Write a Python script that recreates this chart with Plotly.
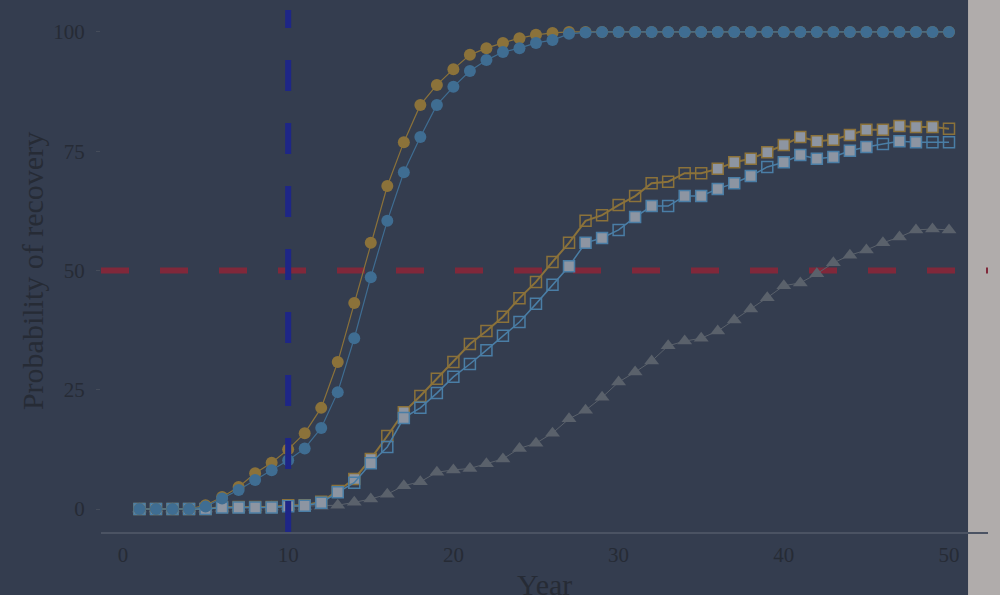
import plotly.graph_objects as go

years = list(range(1, 51))

gold_circle = [0, 0, 0, 0, 0.8, 2.5, 4.6, 7.5, 9.7, 12.5, 15.9, 21.2, 30.8, 43.2, 55.8,
               67.7, 76.9, 84.7, 88.9, 92.2, 95.2, 96.6, 97.7, 98.7, 99.4, 99.8, 100, 100, 100,
               100, 100, 100, 100, 100, 100, 100, 100, 100, 100, 100, 100, 100, 100, 100,
               100, 100, 100, 100, 100, 100]
blue_circle = [0, 0, 0, 0, 0.5, 2.2, 4.0, 6.1, 8.1, 10.2, 12.7, 17.0, 24.5, 35.8, 48.6,
               60.4, 70.6, 78.0, 84.7, 88.5, 91.8, 94.1, 95.8, 96.6, 97.7, 98.3, 99.6, 99.9, 100,
               100, 100, 100, 100, 100, 100, 100, 100, 100, 100, 100, 100, 100, 100, 100,
               100, 100, 100, 100, 100, 100]
gold_square = [0, 0, 0, 0, 0, 0.4, 0.4, 0.4, 0.4, 0.8, 0.8, 1.5, 3.8, 6.3, 10.5,
               15.3, 20.3, 23.7, 27.3, 30.8, 34.6, 37.3, 40.3, 44.2, 47.6, 51.8, 55.8, 60.4, 61.6,
               63.7, 65.6, 68.3, 68.6, 70.4, 70.4, 71.3, 72.7, 73.4, 74.8, 76.3, 78.0, 77.1, 77.4,
               78.4, 79.5, 79.5, 80.3, 80.1, 80.1, 79.7]
blue_square = [0, 0, 0, 0, 0, 0.3, 0.3, 0.3, 0.3, 0.6, 0.7, 1.3, 3.5, 5.5, 9.6,
               13.0, 19.1, 21.2, 24.3, 27.7, 30.4, 33.3, 36.3, 39.2, 43.0, 47.0, 50.9, 55.8, 56.8,
               58.5, 61.2, 63.5, 63.5, 65.6, 65.6, 67.1, 68.3, 69.8, 71.7, 72.7, 74.2, 73.4, 73.8,
               75.1, 75.9, 76.5, 77.1, 76.9, 76.9, 76.9]
grey_triangle = [0, 0, 0, 0, 0, 0.1, 0.2, 0.3, 0.4, 0.5, 0.5, 0.6, 0.8, 1.4, 2.1,
                 3.1, 4.9, 5.7, 7.7, 8.2, 8.5, 9.5, 10.5, 12.7, 13.8, 15.9, 18.9, 20.7, 23.4,
                 26.6, 28.7, 31.0, 34.2, 35.2, 35.8, 37.3, 39.6, 41.9, 44.3, 46.8, 47.4, 49.3, 51.6,
                 53.2, 54.3, 55.8, 57.0, 58.5, 58.7, 58.5]

# years whose square markers are drawn hollow
gold_open_years = [16] + list(range(18, 36)) + [50]
blue_open_years = [14, 16] + list(range(18, 27)) + [30, 33, 39, 46, 49, 50]

x_ticks = [0, 10, 20, 30, 40, 50]
y_ticks = [0, 25, 50, 75, 100]
x_title = "Year"
y_title = "Probability of recovery"
threshold_year = 10
threshold_prob = 50

BG = "#343d4f"
GOLD = "#8b723a"
BLUE = "#3f6d92"
BLUE_SQ = "#4a7ea6"
GREY_T = "#5a616b"
FILL = "#8d95a2"
TXT = "#262b35"
FONT = "Liberation Serif"


def square_style(open_years, color):
    symbols = ["square-open" if y in open_years else "square" for y in years]
    colors = [color if y in open_years else FILL for y in years]
    return symbols, colors


fig = go.Figure()

fig.add_trace(go.Scatter(x=years, y=grey_triangle, mode="lines+markers",
                         line=dict(color=GREY_T, width=1),
                         marker=dict(symbol="triangle-up", size=13, color=GREY_T)))

gs, gc = square_style(gold_open_years, GOLD)
fig.add_trace(go.Scatter(x=years, y=gold_square, mode="lines+markers",
                         line=dict(color=GOLD, width=2),
                         marker=dict(symbol=gs, size=11, color=gc,
                                     line=dict(color=GOLD, width=1.5))))
bs, bc = square_style(blue_open_years, BLUE_SQ)
fig.add_trace(go.Scatter(x=years, y=blue_square, mode="lines+markers",
                         line=dict(color=BLUE_SQ, width=1.5),
                         marker=dict(symbol=bs, size=11, color=bc,
                                     line=dict(color=BLUE_SQ, width=1.5))))

fig.add_trace(go.Scatter(x=years, y=gold_circle, mode="lines+markers",
                         line=dict(color=GOLD, width=1.2),
                         marker=dict(symbol="circle", size=12, color=GOLD)))
fig.add_trace(go.Scatter(x=years, y=blue_circle, mode="lines+markers",
                         line=dict(color=BLUE, width=1.2),
                         marker=dict(symbol="circle", size=12, color=BLUE)))

fig.add_shape(type="rect", xref="paper", yref="paper", x0=0.9775, x1=1.2, y0=-0.5, y1=1.5,
              fillcolor="#b0acab", line=dict(width=0), layer="below")
fig.add_shape(type="line", xref="paper", yref="y", x0=0, x1=1,
              y0=threshold_prob, y1=threshold_prob,
              line=dict(color="#80283a", width=6, dash="28px,31px"), layer="below")
fig.add_shape(type="line", xref="x", yref="paper", x0=threshold_year, x1=threshold_year,
              y0=0, y1=1,
              line=dict(color="#1e2687", width=6, dash="31px,32px"), layer="above")

fig.add_annotation(text=x_title, xref="paper", yref="paper", x=0.5, y=-0.066,
                   xanchor="center", yanchor="top", showarrow=False,
                   font=dict(size=30, color=TXT, family=FONT))

fig.update_layout(
    width=1000, height=595,
    margin=dict(l=101, r=12, t=10, b=63),
    paper_bgcolor=BG, plot_bgcolor="rgba(0,0,0,0)",
    showlegend=False,
    font=dict(family=FONT, color=TXT),
)
fig.update_xaxes(range=[-1.33, 52.36], tickvals=x_ticks, showgrid=False, zeroline=False,
                 showline=True, linecolor="#4b5363", linewidth=1.5, automargin=False,
                 ticks="", tickfont=dict(size=21, color=TXT, family=FONT),
                 ticklabelstandoff=3)
fig.update_yaxes(range=[-4.82, 104.6], tickvals=y_ticks, showgrid=False, zeroline=False,
                 showline=False, ticks="outside", ticklen=4, tickcolor="#454c5a",
                 automargin=False,
                 tickfont=dict(size=21, color=TXT, family=FONT),
                 ticklabelstandoff=7,
                 title=dict(text=y_title, font=dict(size=30, color=TXT, family=FONT), standoff=0))

fig.write_html("out.html")
